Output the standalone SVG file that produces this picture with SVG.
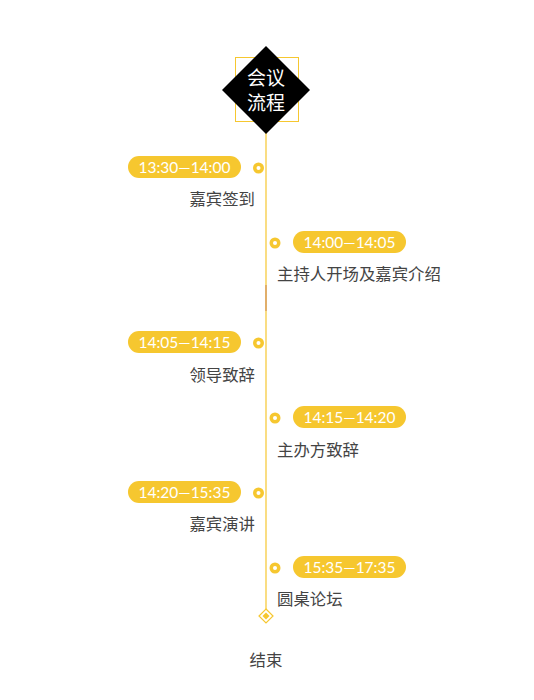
<svg xmlns="http://www.w3.org/2000/svg" width="534" height="700" viewBox="0 0 534 700">
<style>
.pill{fill:#F6C72F}
.pt{font-family:"Lato","Noto Sans",sans-serif;font-size:15.5px;fill:#fff;text-anchor:middle}
.lb{font-family:"Noto Sans CJK SC","Noto Sans",sans-serif;font-size:16.4px;fill:#444}
.dot{fill:#F6C72F}
.dotin{fill:#fff}
</style>
<rect width="534" height="700" fill="#fff"/>
<g id="connectors">
<line x1="266" y1="128" x2="266" y2="610" stroke="#F6C72F" stroke-width="1.2"/>
<line x1="266" y1="285" x2="266" y2="311" stroke="#D0905A" stroke-width="1.2"/>
</g>
<g id="title">
<rect x="235.5" y="57.5" width="63" height="64" fill="none" stroke="#F6C72F" stroke-width="1"/>
<polygon points="266,46 310,90 266,134 222,90" fill="#000"/>
<text x="266" y="85" font-family="Noto Sans CJK SC,sans-serif" font-size="19" fill="#fff" text-anchor="middle">会议</text>
<text x="266" y="110" font-family="Noto Sans CJK SC,sans-serif" font-size="19" fill="#fff" text-anchor="middle">流程</text>
</g>
<g id="item1">
<rect class="pill" x="128" y="156" width="113" height="22" rx="11"/>
<text class="pt" x="184.5" y="172.5">13:30—14:00</text>
<circle class="dot" cx="258.5" cy="168" r="5.5"/><circle class="dotin" cx="258.5" cy="168" r="2"/>
<text class="lb" x="255" y="205" text-anchor="end">嘉宾签到</text>
</g>
<g id="item2">
<rect class="pill" x="293" y="231" width="113" height="22" rx="11"/>
<text class="pt" x="349.5" y="247.5">14:00—14:05</text>
<circle class="dot" cx="275" cy="243" r="5.5"/><circle class="dotin" cx="275" cy="243" r="2"/>
<text class="lb" x="277" y="280">主持人开场及嘉宾介绍</text>
</g>
<g id="item3">
<rect class="pill" x="128" y="331" width="113" height="22" rx="11"/>
<text class="pt" x="184.5" y="347.5">14:05—14:15</text>
<circle class="dot" cx="258.5" cy="343" r="5.5"/><circle class="dotin" cx="258.5" cy="343" r="2"/>
<text class="lb" x="255" y="381" text-anchor="end">领导致辞</text>
</g>
<g id="item4">
<rect class="pill" x="293" y="406" width="113" height="22" rx="11"/>
<text class="pt" x="349.5" y="422.5">14:15—14:20</text>
<circle class="dot" cx="275" cy="418" r="5.5"/><circle class="dotin" cx="275" cy="418" r="2"/>
<text class="lb" x="277" y="456">主办方致辞</text>
</g>
<g id="item5">
<rect class="pill" x="128" y="481" width="113" height="22" rx="11"/>
<text class="pt" x="184.5" y="497.5">14:20—15:35</text>
<circle class="dot" cx="258.5" cy="493" r="5.5"/><circle class="dotin" cx="258.5" cy="493" r="2"/>
<text class="lb" x="255" y="530" text-anchor="end">嘉宾演讲</text>
</g>
<g id="item6">
<rect class="pill" x="293" y="556" width="113" height="22" rx="11"/>
<text class="pt" x="349.5" y="572.5">15:35—17:35</text>
<circle class="dot" cx="275" cy="568" r="5.5"/><circle class="dotin" cx="275" cy="568" r="2"/>
<text class="lb" x="277" y="605">圆桌论坛</text>
</g>
<g id="end">
<polygon points="266,609 273,616 266,623 259,616" fill="#fff" stroke="#F6C72F" stroke-width="1.2"/>
<polygon points="266,612.5 269.5,616 266,619.5 262.5,616" fill="#F6C72F"/>
<text class="lb" x="266" y="666" text-anchor="middle">结束</text>
</g>
</svg>
